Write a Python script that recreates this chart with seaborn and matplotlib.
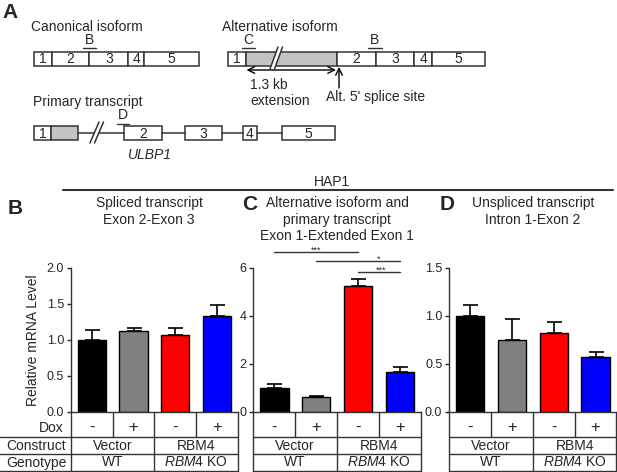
import matplotlib
matplotlib.use("Agg")
import matplotlib.pyplot as plt
import matplotlib.patches as mpatches
import matplotlib.transforms as mtransforms
import numpy as np
import pandas as pd
import seaborn as sns

# ---- data ----
conditions = ["Vector -", "Vector +", "RBM4 -", "RBM4 +"]
dox = ["-", "+", "-", "+"]
construct = ["Vector", "RBM4"]
genotype = ["WT", r"$\it{RBM4}$ KO"]
bar_colors = ["#000000", "#808080", "#ff0000", "#0000ff"]

spliced_mean = [1.00, 1.13, 1.07, 1.34]
spliced_err = [0.14, 0.03, 0.10, 0.15]
alt_mean = [1.01, 0.61, 5.25, 1.68]
alt_err = [0.17, 0.07, 0.29, 0.18]
unspliced_mean = [1.00, 0.75, 0.82, 0.57]
unspliced_err = [0.11, 0.22, 0.12, 0.05]

# significance in panel C: (from, to, label, line height, label x)
sig_pairs = [(0, 2, "***", 6.67, 1.0), (1, 3, "*", 6.29, 2.5), (2, 3, "***", 5.83, 2.55)]

sns.set_style("ticks")
plt.rcParams["font.family"] = ["Liberation Sans", "DejaVu Sans"]
plt.rcParams["mathtext.fontset"] = "custom"
plt.rcParams["mathtext.rm"] = "Liberation Sans"
plt.rcParams["mathtext.it"] = "Liberation Sans:italic"

W, H = 617, 472
fig = plt.figure(figsize=(W / 100, H / 100), dpi=100)

# overlay in pixel coordinates for the diagram and table
ov = fig.add_axes([0, 0, 1, 1])
ov.set_xlim(0, W)
ov.set_ylim(H, 0)
ov.axis("off")


def px_axes(x0, x1, y0, y1):
    return fig.add_axes([x0 / W, 1 - y1 / H, (x1 - x0) / W, (y1 - y0) / H])


LINE = "#333333"
FS = 10

# ---- panel A diagram ----
ov.text(2, 12, "A", fontsize=15, fontweight="bold", va="center", ha="left")


def exon_row(bounds, labels, y, fills, h=14):
    for i in range(len(bounds) - 1):
        ov.add_patch(mpatches.Rectangle((bounds[i], y - h / 2), bounds[i + 1] - bounds[i], h,
                                        facecolor=fills[i], edgecolor=LINE, lw=1.1))
        if labels[i]:
            ov.text((bounds[i] + bounds[i + 1]) / 2, y + 0.5, labels[i], ha="center", va="center", fontsize=FS)


def primer(x0, x1, yline, label):
    ov.plot([x0, x1], [yline, yline], color=LINE, lw=1)
    ov.text((x0 + x1) / 2, yline - 1.5, label, ha="center", va="bottom", fontsize=FS)


def slashes(xb, yb, xt, yt, gap, cover=None):
    if cover:
        ov.add_patch(mpatches.Polygon([(xb, yb), (xt, yt), (xt + gap, yt), (xb + gap, yb)],
                                      closed=True, facecolor=cover, edgecolor="none", zorder=3))
    ov.plot([xb, xt], [yb, yt], color=LINE, lw=1.1, zorder=4)
    ov.plot([xb + gap, xt + gap], [yb, yt], color=LINE, lw=1.1, zorder=4)


# canonical isoform
ov.text(31, 27, "Canonical isoform", fontsize=FS, va="center", ha="left")
exon_row([33.7, 51.7, 89.3, 128.3, 144, 199], ["1", "2", "3", "4", "5"], 58.7, ["white"] * 5)
primer(82.7, 96, 48.3, "B")

# alternative isoform
ov.text(222.5, 27, "Alternative isoform", fontsize=FS, va="center", ha="left")
exon_row([228.3, 246, 337.3, 376, 414.3, 431.7, 485], ["1", "", "2", "3", "4", "5"], 58.7,
         ["white", "#c3c3c3", "white", "white", "white", "white"])
slashes(270, 69, 278, 47, 4.5, cover="white")
primer(241.7, 255, 48.3, "C")
primer(368, 381.7, 48.3, "B")
ov.annotate("", xy=(246.5, 70), xytext=(336, 70),
            arrowprops=dict(arrowstyle="<->", color="black", lw=1, shrinkA=0, shrinkB=0,
                            mutation_scale=12))
ov.annotate("", xy=(339, 67), xytext=(339, 88),
            arrowprops=dict(arrowstyle="->", color="black", lw=1, shrinkA=0, shrinkB=0,
                            mutation_scale=12))
ov.text(250.5, 85, "1.3 kb", fontsize=FS, va="center", ha="left")
ov.text(250, 101, "extension", fontsize=FS, va="center", ha="left")
ov.text(326, 97.5, "Alt. 5' splice site", fontsize=FS, va="center", ha="left")

# primary transcript
ov.text(33, 102, "Primary transcript", fontsize=FS, va="center", ha="left")
yp = 133
for xa, xb in [(78.3, 124.3), (162.3, 185), (221.7, 243.3), (256.7, 281.7)]:
    ov.plot([xa, xb], [yp, yp], color=LINE, lw=1.1)
exon_row([33.7, 51, 78.3], ["1", ""], yp, ["white", "#c3c3c3"])
exon_row([124.3, 162.3], ["2"], yp, ["white"])
exon_row([185, 221.7], ["3"], yp, ["white"])
exon_row([243.3, 256.7], ["4"], yp, ["white"])
exon_row([281.7, 335], ["5"], yp, ["white"])
slashes(90, 143, 99, 122, 4.5, cover="white")
primer(116.7, 129.3, 123.5, "D")
ov.text(150, 155, "ULBP1", fontsize=FS, style="italic", ha="center", va="center")

# ---- HAP1 header ----
ov.plot([63, 613], [190, 190], color=LINE, lw=1.5)
ov.text(332, 182, "HAP1", fontsize=FS, ha="center", va="center")

ov.text(15, 208, "B", fontsize=15, fontweight="bold", ha="center", va="center")
ov.text(149, 203, "Spliced transcript", fontsize=FS, ha="center", va="center")
ov.text(149, 220, "Exon 2-Exon 3", fontsize=FS, ha="center", va="center")
ov.text(250, 205, "C", fontsize=15, fontweight="bold", ha="center", va="center")
ov.text(337, 203, "Alternative isoform and", fontsize=FS, ha="center", va="center")
ov.text(337, 220, "primary transcript", fontsize=FS, ha="center", va="center")
ov.text(337, 236, "Exon 1-Extended Exon 1", fontsize=FS, ha="center", va="center")
ov.text(447, 205, "D", fontsize=15, fontweight="bold", ha="center", va="center")
ov.text(533, 203, "Unspliced transcript", fontsize=FS, ha="center", va="center")
ov.text(533, 220, "Intron 1-Exon 2", fontsize=FS, ha="center", va="center")

ov.text(33, 340, "Relative mRNA Level", fontsize=FS, rotation=90, ha="center", va="center")

# ---- bar panels ----
panels = [
    ((71, 237.7), spliced_mean, spliced_err, 2.0, [0, 0.5, 1.0, 1.5, 2.0], "{:.1f}", True),
    ((253.3, 421), alt_mean, alt_err, 6.0, [0, 2, 4, 6], "{:.0f}", False),
    ((449.3, 616.5), unspliced_mean, unspliced_err, 1.5, [0, 0.5, 1.0, 1.5], "{:.1f}", False),
]
ytop, ybot = 268, 412
rows = [437, 454, 471]
axes = []
for (x0, x1), means, errs, ymax, ticks, fmt, first in panels:
    ax = px_axes(x0, x1, ytop, ybot)
    df = pd.DataFrame({"condition": conditions, "value": means})
    sns.barplot(data=df, x="condition", y="value", hue="condition", palette=bar_colors,
                legend=False, saturation=1, width=0.68, edgecolor="black", linewidth=1,
                errorbar=None, ax=ax)
    ax.errorbar(np.arange(4), means, yerr=[np.zeros(4), errs], fmt="none", ecolor="black",
                elinewidth=1.2, capsize=5.4, capthick=1.2, zorder=1)
    ax.set_xlim(-0.5, 3.5)
    ax.set_ylim(0, ymax)
    ax.set_yticks(ticks)
    ax.set_yticklabels([fmt.format(t) for t in ticks])
    ax.set_xticks([])
    ax.set_xlabel("")
    ax.set_ylabel("")
    ax.tick_params(axis="y", labelsize=9, length=3, width=1, pad=2)
    sns.despine(ax=ax)
    for sp in ["left", "bottom"]:
        ax.spines[sp].set_linewidth(1)
        ax.spines[sp].set_color(LINE)
    ax.patch.set_alpha(0)
    axes.append(ax)

    # table beneath
    tr = mtransforms.blended_transform_factory(ax.transData, ov.transData)
    hx0 = 0 if first else x0
    for ry in rows:
        ov.plot([hx0, x1], [ry, ry], color=LINE, lw=1)
    for xv in [-0.5, 1.5, 3.5]:
        ov.plot([xv, xv], [ybot, rows[-1]], color=LINE, lw=1, transform=tr)
    for xv in [0.5, 2.5]:
        ov.plot([xv, xv], [ybot, rows[0]], color=LINE, lw=1, transform=tr)
    for i, d in enumerate(dox):
        ov.text(i, 427.5, d, fontsize=12, ha="center", va="center", transform=tr)
    for j in range(2):
        ov.text(2 * j + 0.5, 445.5, construct[j], fontsize=FS, ha="center", va="center", transform=tr)
        ov.text(2 * j + 0.5, 462.5, genotype[j], fontsize=FS, ha="center", va="center", transform=tr)

ov.text(64, 428, "Dox", fontsize=FS, ha="right", va="center")
ov.text(6.5, 445.5, "Construct", fontsize=FS, ha="left", va="center")
ov.text(6.5, 462.5, "Genotype", fontsize=FS, ha="left", va="center")

# significance bars in panel C
axc = axes[1]
for a, b, lab, yl, xt in sig_pairs:
    axc.plot([a, b], [yl, yl], color=LINE, lw=1, clip_on=False)
    axc.text(xt, yl - 0.02, lab, fontsize=6.5, ha="center", va="baseline", clip_on=False)

fig.savefig("out.png", dpi=100)
